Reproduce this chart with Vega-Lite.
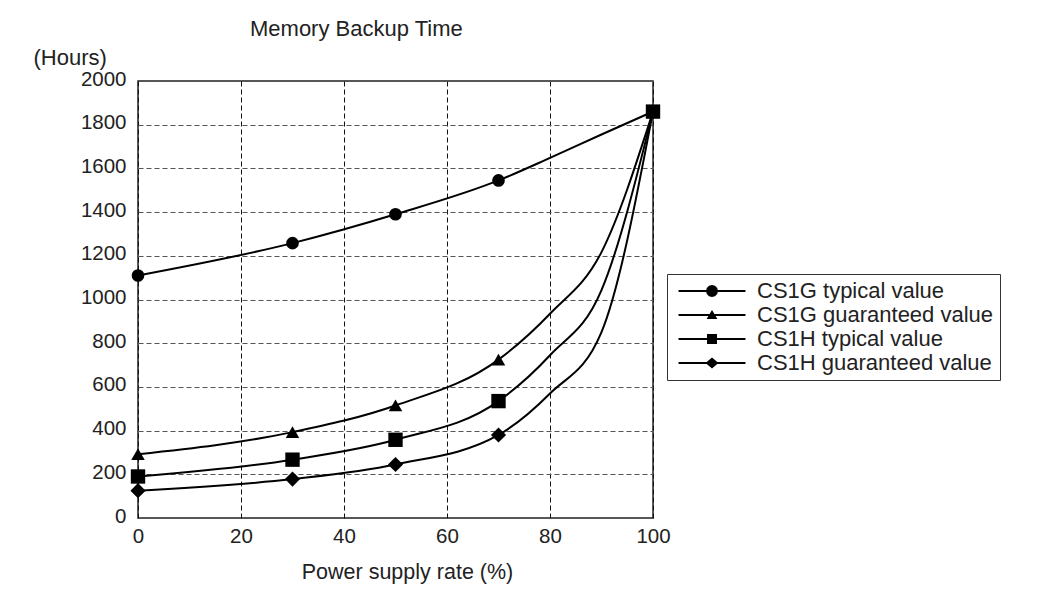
{
  "$schema": "https://vega.github.io/schema/vega-lite/v6.json",
  "width": 515,
  "height": 437,
  "autosize": "none",
  "padding": {"left": 138, "top": 81, "right": 399, "bottom": 73},
  "background": "white",
  "title": {"text": "Memory Backup Time", "anchor": "start", "frame": "group", "dx": 112, "offset": 5, "fontSize": 22, "font": "Liberation Sans", "fontWeight": "normal", "color": "#222"},
  "data": {"values": [
    {"series": "CS1G typical value", "rate": 0, "hours": 1110, "marked": true},
    {"series": "CS1G typical value", "rate": 30, "hours": 1258, "marked": true},
    {"series": "CS1G typical value", "rate": 50, "hours": 1390, "marked": true},
    {"series": "CS1G typical value", "rate": 70, "hours": 1545, "marked": true},
    {"series": "CS1G typical value", "rate": 80, "hours": 1648, "marked": false},
    {"series": "CS1G typical value", "rate": 90, "hours": 1755, "marked": false},
    {"series": "CS1G typical value", "rate": 100, "hours": 1860, "marked": false},
    {"series": "CS1G guaranteed value", "rate": 0, "hours": 292, "marked": true},
    {"series": "CS1G guaranteed value", "rate": 30, "hours": 393, "marked": true},
    {"series": "CS1G guaranteed value", "rate": 50, "hours": 515, "marked": true},
    {"series": "CS1G guaranteed value", "rate": 70, "hours": 725, "marked": true},
    {"series": "CS1G guaranteed value", "rate": 80, "hours": 935, "marked": false},
    {"series": "CS1G guaranteed value", "rate": 90, "hours": 1217, "marked": false},
    {"series": "CS1G guaranteed value", "rate": 100, "hours": 1860, "marked": false},
    {"series": "CS1H typical value", "rate": 0, "hours": 190, "marked": true},
    {"series": "CS1H typical value", "rate": 30, "hours": 267, "marked": true},
    {"series": "CS1H typical value", "rate": 50, "hours": 358, "marked": true},
    {"series": "CS1H typical value", "rate": 70, "hours": 535, "marked": true},
    {"series": "CS1H typical value", "rate": 80, "hours": 745, "marked": false},
    {"series": "CS1H typical value", "rate": 90, "hours": 1043, "marked": false},
    {"series": "CS1H typical value", "rate": 100, "hours": 1860, "marked": true},
    {"series": "CS1H guaranteed value", "rate": 0, "hours": 125, "marked": true},
    {"series": "CS1H guaranteed value", "rate": 30, "hours": 178, "marked": true},
    {"series": "CS1H guaranteed value", "rate": 50, "hours": 245, "marked": true},
    {"series": "CS1H guaranteed value", "rate": 70, "hours": 380, "marked": true},
    {"series": "CS1H guaranteed value", "rate": 80, "hours": 570, "marked": false},
    {"series": "CS1H guaranteed value", "rate": 90, "hours": 851, "marked": false},
    {"series": "CS1H guaranteed value", "rate": 100, "hours": 1860, "marked": false}
  ]},
  "encoding": {
    "x": {
      "field": "rate", "type": "quantitative",
      "scale": {"domain": [0, 100], "nice": false},
      "axis": {
        "values": [0, 20, 40, 60, 80, 100],
        "title": "Power supply rate (%)",
        "grid": true, "gridDash": [5, 3], "gridColor": "#111", "gridWidth": 1,
        "ticks": false, "tickSize": 0, "domain": false,
        "labelFont": "Liberation Sans", "labelFontSize": 20.5, "labelColor": "#222",
        "labelPadding": 24, "labelBaseline": "alphabetic", "labelFlush": false,
        "titleFont": "Liberation Sans", "titleFontSize": 21.5, "titleFontWeight": "normal", "titleColor": "#222",
        "titleX": 269, "titleY": 60, "titleBaseline": "alphabetic"
      }
    },
    "y": {
      "field": "hours", "type": "quantitative",
      "scale": {"domain": [0, 2000], "nice": false},
      "axis": {
        "values": [0, 200, 400, 600, 800, 1000, 1200, 1400, 1600, 1800, 2000],
        "format": "d",
        "title": "(Hours)",
        "grid": true, "gridDash": [5, 3], "gridColor": "#555", "gridWidth": 1,
        "ticks": false, "tickSize": 0, "domain": false,
        "labelFont": "Liberation Sans", "labelFontSize": 20.5, "labelColor": "#222",
        "labelPadding": 12, "labelOffset": -2,
        "titleFont": "Liberation Sans", "titleFontSize": 22, "titleFontWeight": "normal", "titleColor": "#222",
        "titleAngle": 0, "titleAlign": "left", "titleBaseline": "middle", "titleX": -105, "titleY": -24
      }
    }
  },
  "layer": [
    {
      "mark": {"type": "line", "interpolate": "monotone", "color": "black", "strokeWidth": 2},
      "encoding": {"detail": {"field": "series", "type": "nominal"}}
    },
    {
      "transform": [{"filter": "datum.marked"}],
      "mark": {"type": "point", "filled": true, "color": "black", "opacity": 1},
      "encoding": {
        "shape": {
          "field": "series", "type": "nominal",
          "scale": {
            "domain": ["CS1G typical value", "CS1G guaranteed value", "CS1H typical value", "CS1H guaranteed value"],
            "range": ["circle", "triangle-up", "square", "diamond"]
          },
          "legend": null
        },
        "size": {
          "field": "series", "type": "ordinal",
          "scale": {
            "domain": ["CS1G typical value", "CS1G guaranteed value", "CS1H typical value", "CS1H guaranteed value"],
            "range": [160, 230, 165, 205]
          },
          "legend": null
        }
      }
    },
    {
      "transform": [{"filter": "false"}],
      "mark": {"type": "point", "filled": true, "color": "black", "opacity": 1},
      "encoding": {
        "shape": {
          "field": "series", "type": "nominal",
          "scale": {
            "domain": ["CS1G typical value", "CS1G guaranteed value", "CS1H typical value", "CS1H guaranteed value"],
            "range": [
              "M-5.58,-0.17L5.58,-0.17L5.58,0.17L-5.58,0.17ZM1,0L0.87,0.5L0.5,0.87L0,1L-0.5,0.87L-0.87,0.5L-1,0L-0.87,-0.5L-0.5,-0.87L0,-1L0.5,-0.87L0.87,-0.5Z",
              "M-5.58,-0.17L5.58,-0.17L5.58,0.17L-5.58,0.17ZM0,-0.85L0.9,0.65L-0.9,0.65Z",
              "M-5.58,-0.17L5.58,-0.17L5.58,0.17L-5.58,0.17ZM-0.83,-0.83L0.83,-0.83L0.83,0.83L-0.83,0.83Z",
              "M-5.58,-0.17L5.58,-0.17L5.58,0.17L-5.58,0.17ZM-1.08,0L0,-0.92L1.08,0L0,0.92Z"
            ]
          },
          "legend": {
            "orient": "none", "legendX": 529, "legendY": 193,
            "title": null,
            "labelFont": "Liberation Sans", "labelFontSize": 22, "labelColor": "#222", "labelLimit": 400,
            "symbolSize": 144, "symbolOffset": 28, "labelOffset": 34, "padding": 6, "rowPadding": 2,
            "strokeColor": "#333", "fillColor": "white",
            "symbolStrokeWidth": 0, "symbolFillColor": "black", "symbolOpacity": 1
          }
        }
      }
    }
  ],
  "resolve": {"scale": {"shape": "independent", "size": "independent"}},
  "config": {
    "view": {"stroke": "#222", "strokeWidth": 1.5},
    "font": "Liberation Sans"
  }
}
